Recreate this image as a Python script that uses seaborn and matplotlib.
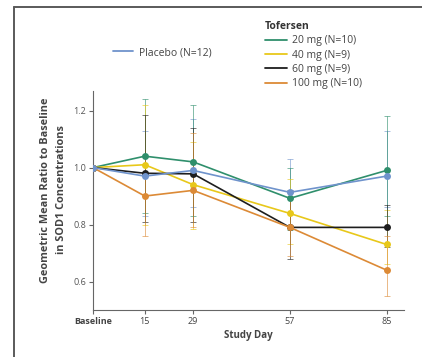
import matplotlib
matplotlib.use("Agg")
import matplotlib.pyplot as plt
from matplotlib.lines import Line2D
import numpy as np
import pandas as pd
import seaborn as sns

# * Data
days = [0, 15, 29, 57, 85]
tick_labels = ["Baseline", "15", "29", "57", "85"]
groups = ["Placebo (N=12)", "20 mg (N=10)", "40 mg (N=9)", "60 mg (N=9)", "100 mg (N=10)"]
colors = ["#6f93cc", "#2f8f6c", "#e8c81a", "#1e1e1e", "#dc8a36"]

placebo = [1.0, 0.97, 0.99, 0.913, 0.97]
mg20 = [1.0, 1.04, 1.02, 0.892, 0.99]
mg40 = [1.0, 1.01, 0.94, 0.839, 0.73]
mg60 = [1.0, 0.98, 0.978, 0.79, 0.79]
mg100 = [1.0, 0.90, 0.92, 0.79, 0.64]

placebo_lo = [1.0, 0.83, 0.86, 0.80, 0.86]
placebo_hi = [1.0, 1.13, 1.17, 1.03, 1.13]
mg20_lo = [1.0, 0.84, 0.83, 0.78, 0.83]
mg20_hi = [1.0, 1.24, 1.22, 1.00, 1.18]
mg40_lo = [1.0, 0.80, 0.785, 0.73, 0.66]
mg40_hi = [1.0, 1.22, 1.09, 0.96, 0.85]
mg60_lo = [1.0, 0.81, 0.81, 0.68, 0.72]
mg60_hi = [1.0, 1.185, 1.14, 0.92, 0.87]
mg100_lo = [1.0, 0.76, 0.79, 0.69, 0.55]
mg100_hi = [1.0, 1.04, 1.12, 0.91, 0.76]

means = [placebo, mg20, mg40, mg60, mg100]
lows = [placebo_lo, mg20_lo, mg40_lo, mg60_lo, mg100_lo]
highs = [placebo_hi, mg20_hi, mg40_hi, mg60_hi, mg100_hi]

rows = []
for g, m in zip(groups, means):
    for d, v in zip(days, m):
        rows.append({"day": d, "ratio": v, "group": g})
df = pd.DataFrame(rows)

sns.set_style("ticks")
plt.rcParams["font.family"] = ["Open Sans", "DejaVu Sans"]
plt.rcParams["axes.edgecolor"] = "#666666"

fig = plt.figure(figsize=(4.22, 3.57), dpi=100)
ax = fig.add_axes([0.2204, 0.1317, 0.7366, 0.6143])

# * Error bars first, thin and light
for m, lo, hi, c in zip(means, lows, highs, colors):
    m = np.array(m)
    yerr = [m - np.array(lo), np.array(hi) - m]
    ax.errorbar(days[1:], m[1:], yerr=[yerr[0][1:], yerr[1][1:]], fmt="none",
                ecolor=c, elinewidth=0.7, capsize=2, capthick=0.7, alpha=0.6, zorder=1)

# * Lines with markers (placebo drawn last so its baseline marker is on top)
order = [groups[i] for i in [1, 2, 3, 4, 0]]
pal = dict(zip(groups, colors))
for g in order:
    sns.lineplot(data=df[df["group"] == g], x="day", y="ratio", color=pal[g],
                 marker="o", markersize=5, markeredgewidth=0, linewidth=1.2,
                 ax=ax, legend=False, zorder=3)

ax.set_xlim(0, 90)
ax.set_ylim(0.5, 1.27)
ax.set_xticks(days)
ax.set_xticklabels(tick_labels, fontsize=6.5, color="#444444")
ax.get_xticklabels()[0].set_fontweight("bold")
ax.set_yticks([0.6, 0.8, 1.0, 1.2])
ax.set_yticklabels(["0.6", "0.8", "1.0", "1.2"], fontsize=6.5, color="#555555")
ax.tick_params(length=3, width=0.8, color="#666666", pad=2)
ax.set_xlabel("Study Day", fontsize=7, fontweight="bold", color="#444444", labelpad=3)
ax.set_ylabel("Geometric Mean Ratio to Baseline\nin SOD1 Concentrations", fontsize=7.8,
              fontweight="bold", color="#444444", linespacing=1.55)
ax.yaxis.set_label_coords(-0.084, 0.547)
sns.despine(ax=ax)

# * Legends
h_pl = [Line2D([], [], color=colors[0], lw=1.3)]
fig.legend(h_pl, [groups[0]], loc="upper left", bbox_to_anchor=(0.268, 0.868),
           frameon=False, fontsize=7.5, handlelength=1.9, handletextpad=0.6,
           borderpad=0, borderaxespad=0, labelcolor="#444444")
h_tf = [Line2D([], [], color=c, lw=1.3) for c in colors[1:]]
leg2 = fig.legend(h_tf, groups[1:], loc="upper left", bbox_to_anchor=(0.628, 0.941),
                  frameon=False, fontsize=7.5, handlelength=2.1, handletextpad=0.5,
                  labelspacing=0.32, title="Tofersen", alignment="left",
                  borderpad=0, borderaxespad=0,
                  title_fontproperties={"weight": "bold", "size": 7.5},
                  labelcolor="#444444")
leg2.get_title().set_color("#333333")

# * Grey frame: top and left edges of the panel
fig.add_artist(Line2D([14 / 422, 1.0], [1 - 7 / 357] * 2, transform=fig.transFigure,
                      color="#5a5a5a", lw=1.4))
fig.add_artist(Line2D([14 / 422] * 2, [0.0, 1 - 7 / 357], transform=fig.transFigure,
                      color="#5a5a5a", lw=1.4))

fig.savefig("out.png", dpi=100)
